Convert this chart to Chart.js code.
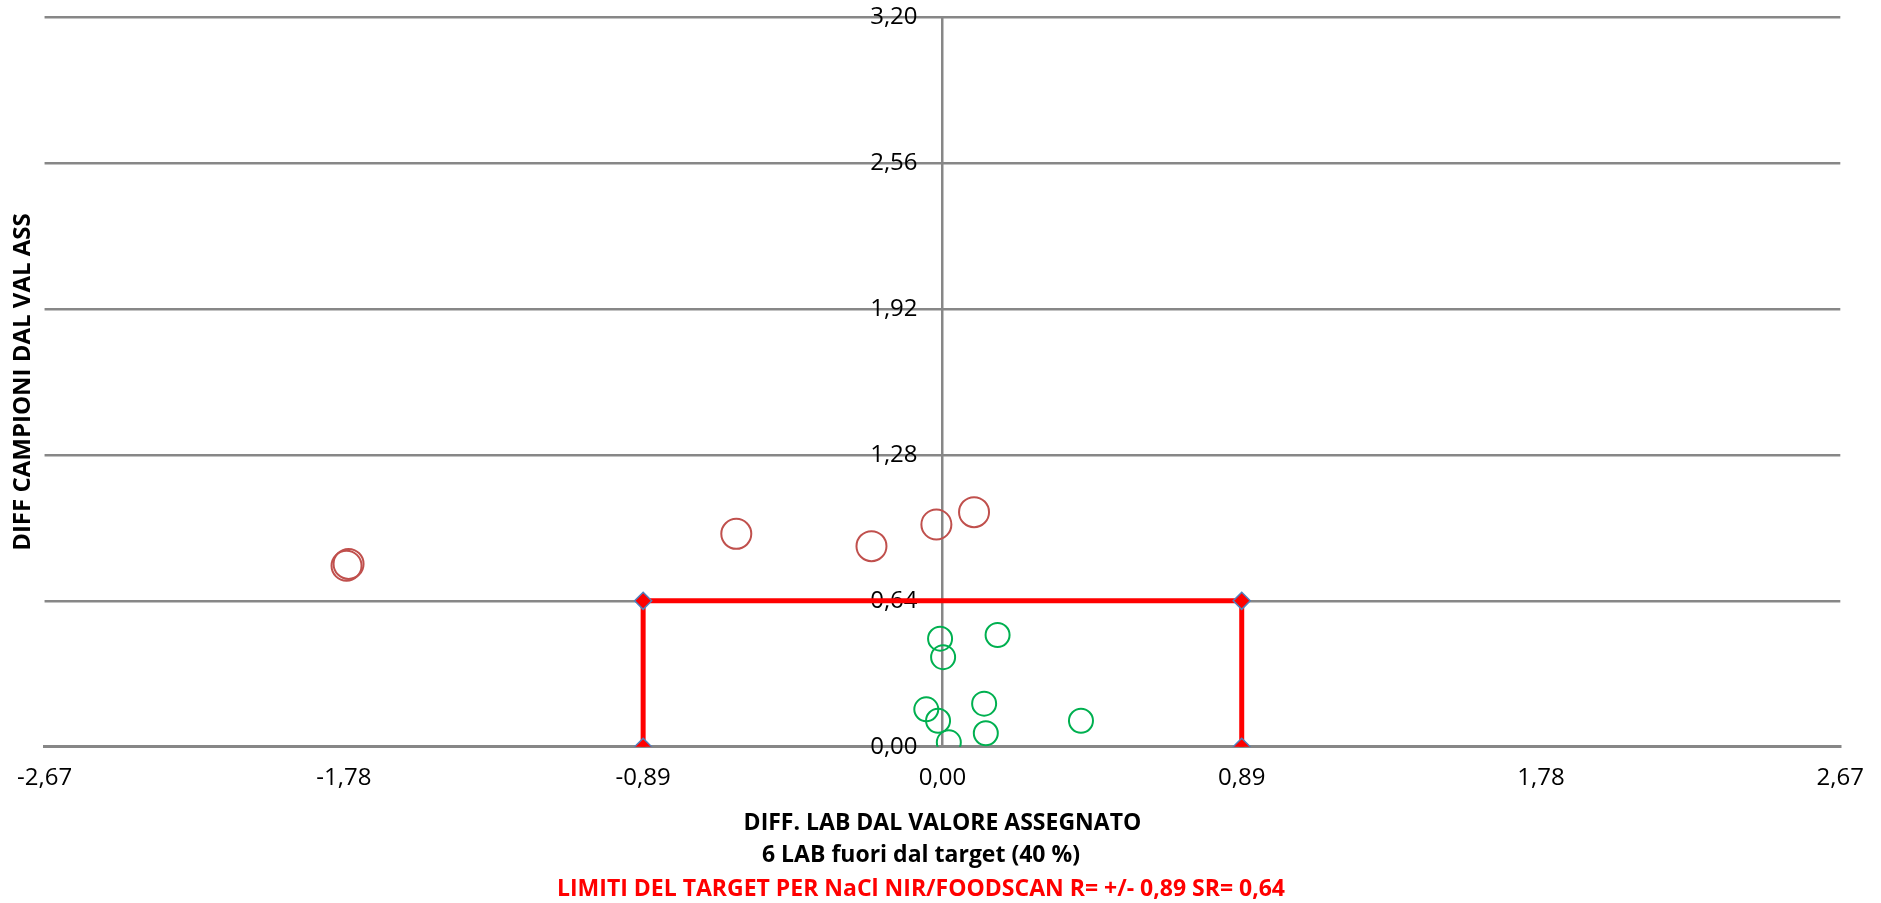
<!DOCTYPE html>
<html>
<head>
<meta charset="utf-8">
<script src="https://cdn.jsdelivr.net/npm/chart.js@4"></script>
<style>
  html, body { margin: 0; padding: 0; background: #fff; }
  #wrap { width: 1881px; height: 903px; }
</style>
</head>
<body>
<div id="wrap"><canvas id="chart" width="1881" height="903"></canvas></div>
<script>
"use strict";

// labs inside the target (green) and outside (red)
const inTargetX = [-0.007, 0.002, 0.164, -0.048, -0.013, 0.019, 0.124, 0.129, 0.412];
const inTargetY = [0.474, 0.393, 0.490, 0.164, 0.114, 0.019, 0.189, 0.059, 0.114];
const outTargetX = [-1.772, -1.766, -0.613, -0.211, -0.018, 0.094];
const outTargetY = [0.794, 0.802, 0.934, 0.880, 0.975, 1.029];

// target box R = +/- 0,89, SR = 0,64
const limitX = [-0.89, -0.89, 0.89, 0.89];
const limitY = [0, 0.64, 0.64, 0];

const xTicks = [-2.67, -1.78, -0.89, 0, 0.89, 1.78, 2.67];
const yTicks = [0, 0.64, 1.28, 1.92, 2.56, 3.2];

const xTitle = "DIFF. LAB DAL VALORE ASSEGNATO";
const xSubTitle = "6 LAB fuori dal target (40 %)";
const yTitle = "DIFF CAMPIONI DAL VAL ASS";
const footTitle = "LIMITI DEL TARGET PER NaCl NIR/FOODSCAN R= +/- 0,89 SR= 0,64";

const FONT = "'Open Sans', 'DejaVu Sans', sans-serif";
const GRID = "#878787";
const boldFont = { family: FONT, size: 23, weight: "bold", lineHeight: 1.2 };
const tickFont = { family: FONT, size: 24, lineHeight: 1.2 };

const toPoints = (xs, ys) => xs.map((x, i) => ({ x, y: ys[i] }));
const fmt = (v) => Number(v).toFixed(2).replace(".", ",");
const setYTicks = (axis) => {
  axis.ticks = yTicks.map((value) => ({ value }));
};

const ctx = document.getElementById("chart").getContext("2d");

new Chart(ctx, {
  type: "scatter",
  data: {
    datasets: [
      {
        label: "limiti",
        data: toPoints(limitX, limitY),
        showLine: true,
        borderColor: "#FF0000",
        borderWidth: 5,
        pointStyle: "rectRot",
        pointRadius: 8.5,
        pointBackgroundColor: "#FF0000",
        pointBorderColor: "#4F81BD",
        pointBorderWidth: 1.5,
      },
      {
        label: "fuori target",
        data: toPoints(outTargetX, outTargetY),
        pointStyle: "circle",
        pointRadius: 15,
        pointBackgroundColor: "rgba(0,0,0,0)",
        pointBorderColor: "#C0504D",
        pointBorderWidth: 2,
      },
      {
        label: "nel target",
        data: toPoints(inTargetX, inTargetY),
        pointStyle: "circle",
        pointRadius: 12,
        pointBackgroundColor: "rgba(0,0,0,0)",
        pointBorderColor: "#00B050",
        pointBorderWidth: 2,
      },
    ],
  },
  options: {
    responsive: false,
    animation: false,
    layout: { padding: { top: 4.5, right: 39, left: 0, bottom: 0 } },
    plugins: {
      legend: { display: false },
      tooltip: { enabled: false },
      subtitle: {
        display: true,
        position: "bottom",
        text: xSubTitle,
        color: "#000",
        font: boldFont,
        padding: { top: 1, bottom: 5.7 },
      },
      title: {
        display: true,
        position: "bottom",
        text: footTitle,
        color: "#FF0000",
        font: boldFont,
        padding: { top: 0, bottom: 0 },
      },
    },
    scales: {
      x: {
        type: "linear",
        min: -2.67,
        max: 2.67,
        afterBuildTicks: (axis) => {
          axis.ticks = xTicks.map((value) => ({ value }));
        },
        // only the vertical line at 0 is visible
        grid: {
          drawTicks: false,
          lineWidth: 2.5,
          color: (c) => (c.tick && c.tick.value === 0 ? GRID : "rgba(0,0,0,0)"),
        },
        border: { display: true, color: GRID, width: 3 },
        ticks: {
          color: "#000",
          padding: 17,
          maxRotation: 0,
          font: tickFont,
          callback: (v) => fmt(v),
        },
        title: {
          display: true,
          text: xTitle,
          color: "#000",
          font: boldFont,
          padding: { top: 0, bottom: 4 },
        },
      },
      // horizontal grid lines, under the marks
      y: {
        type: "linear",
        position: { x: -0.074 },
        min: 0,
        max: 3.2,
        afterBuildTicks: setYTicks,
        grid: { color: GRID, lineWidth: 2.5, drawTicks: false },
        border: { display: false },
        ticks: { display: false },
      },
      // tick labels just left of the x = 0 line, drawn over the marks
      yLabels: {
        type: "linear",
        position: { x: -0.074 },
        z: 1,
        min: 0,
        max: 3.2,
        afterBuildTicks: setYTicks,
        grid: { display: false, drawTicks: false },
        border: { display: false },
        ticks: {
          color: "#000",
          font: tickFont,
          callback: (v) => fmt(v),
        },
      },
      yTitle: {
        type: "linear",
        position: "left",
        min: 0,
        max: 3.2,
        grid: { display: false, drawTicks: false },
        border: { display: false },
        ticks: { display: false },
        title: {
          display: true,
          text: yTitle,
          color: "#000",
          font: { family: FONT, size: 24, weight: "bold", lineHeight: 1.2 },
          padding: { top: 6, bottom: 7.2 },
        },
      },
    },
  },
});
</script>
</body>
</html>
